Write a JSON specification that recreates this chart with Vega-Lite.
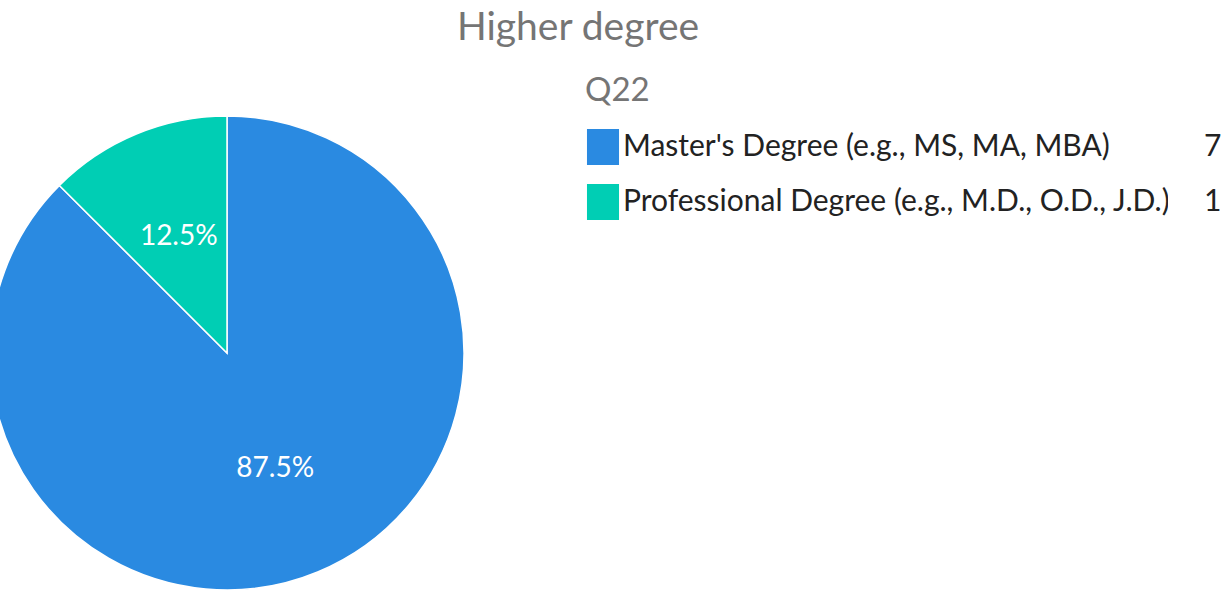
{
  "$schema": "https://vega.github.io/schema/vega-lite/v6.json",
  "autosize": "none",
  "width": 454,
  "height": 498,
  "padding": {"left": 0, "top": 104, "right": 771, "bottom": 0},
  "background": "white",
  "title": {
    "text": "Higher degree",
    "font": "Lato",
    "fontSize": 39,
    "fontWeight": "normal",
    "color": "#757575",
    "anchor": "middle",
    "dx": 351,
    "offset": 27
  },
  "data": {
    "values": [
      {"degree": "Master's Degree (e.g., MS, MA, MBA)", "count": 7, "share": 0.875},
      {"degree": "Professional Degree (e.g., M.D., O.D., J.D.)", "count": 1, "share": 0.125}
    ]
  },
  "config": {"view": {"stroke": null}},
  "layer": [
    {
      "mark": {"type": "arc", "outerRadius": 237, "stroke": "white", "strokeWidth": 1.5},
      "encoding": {
        "theta": {"field": "count", "type": "quantitative", "stack": true},
        "order": {"field": "degree", "sort": "ascending"},
        "color": {
          "field": "degree",
          "type": "nominal",
          "scale": {"range": ["#2A8AE1", "#00CEB4"]},
          "legend": {
            "title": "Q22",
            "orient": "none",
            "legendX": 585,
            "legendY": -29,
            "titleFont": "Lato",
            "titleFontSize": 33,
            "titleFontWeight": "normal",
            "titleColor": "#757575",
            "titlePadding": 21,
            "symbolType": "M-0.89,-1H0.89V1H-0.89Z",
            "symbolSize": 1296,
            "symbolStrokeWidth": 0,
            "labelOffset": 2,
            "labelFont": "Lato",
            "labelFontSize": 30,
            "labelColor": "#222222",
            "labelLimit": 700,
            "rowPadding": 19,
            "encode": {"title": {"update": {"dx": {"value": 2}}}}
          }
        }
      }
    },
    {
      "mark": {"type": "text", "radius": 126, "font": "Lato", "fontSize": 28, "color": "white"},
      "encoding": {
        "theta": {"field": "count", "type": "quantitative", "stack": true},
        "order": {"field": "degree", "sort": "ascending"},
        "text": {"field": "share", "type": "quantitative", "format": ".1%"},
        "opacity": {
          "field": "count",
          "type": "ordinal",
          "scale": {"domain": [7, 1], "range": [1, 1]},
          "legend": {
            "title": "n",
            "titleOpacity": 0,
            "orient": "none",
            "legendX": 1166,
            "legendY": -29,
            "titleFont": "Lato",
            "titleFontSize": 33,
            "titleFontWeight": "normal",
            "titlePadding": 21,
            "symbolType": "M-0.89,-1H0.89V1H-0.89Z",
            "symbolSize": 1296,
            "symbolStrokeWidth": 0,
            "labelOffset": 2,
            "labelFont": "Lato",
            "labelFontSize": 30,
            "labelColor": "#222222",
            "rowPadding": 19,
            "encode": {"symbols": {"update": {"opacity": {"value": 0}}}}
          }
        }
      }
    }
  ]
}
